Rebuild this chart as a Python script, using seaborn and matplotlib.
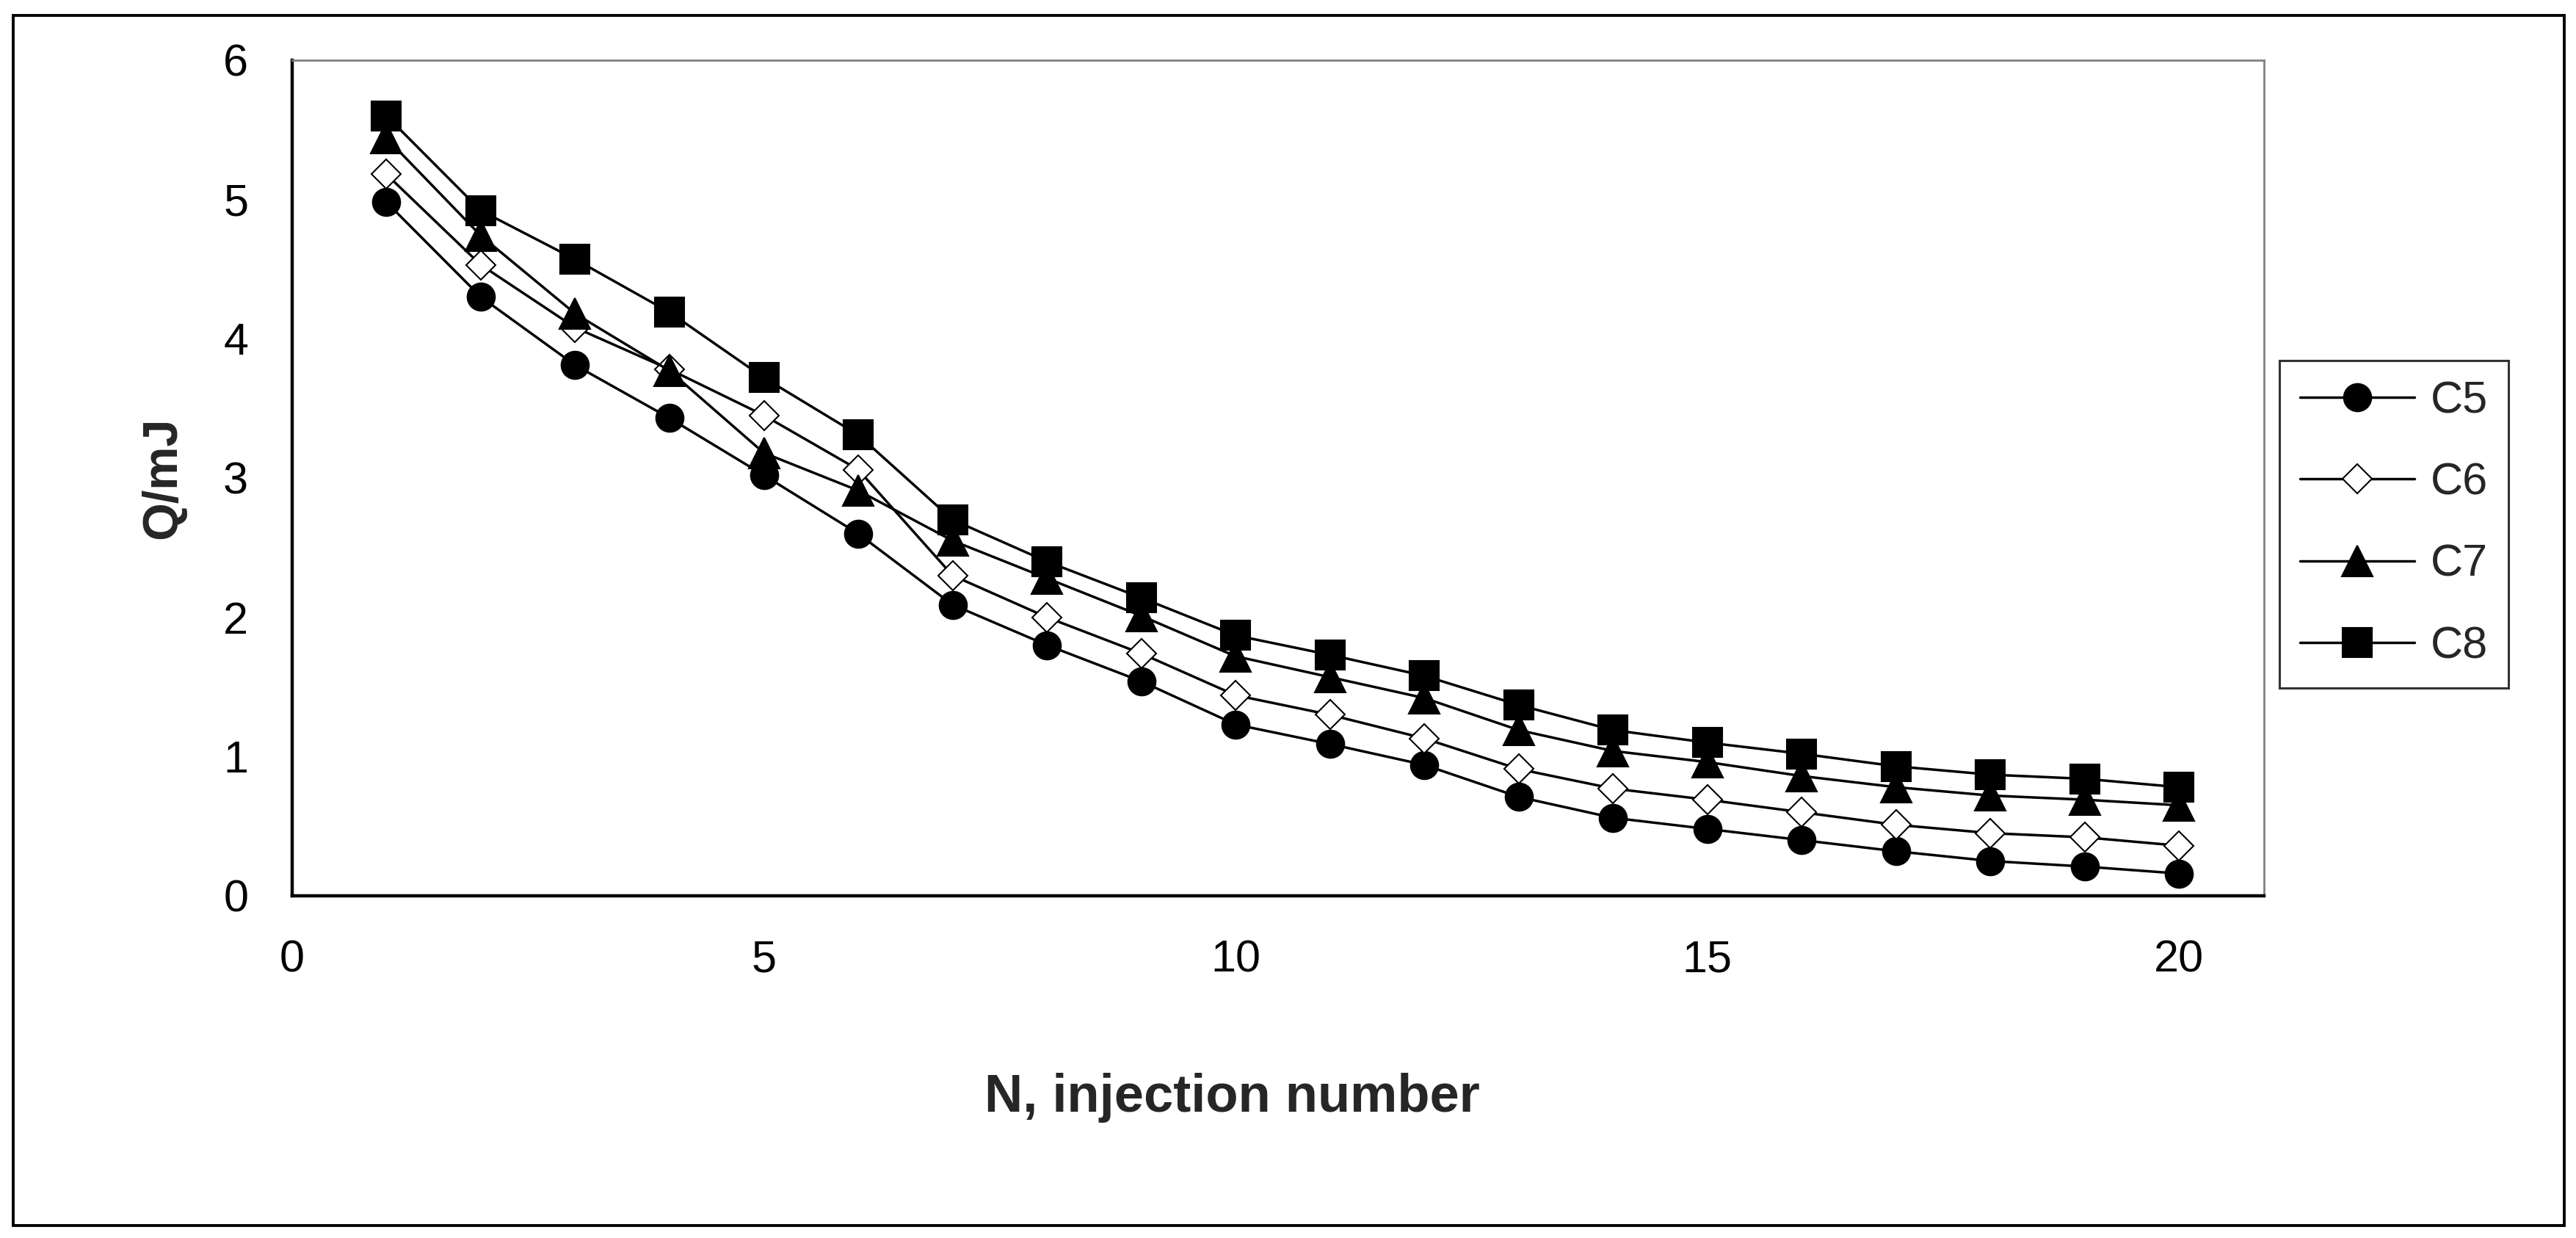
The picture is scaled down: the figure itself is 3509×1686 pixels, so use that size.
import matplotlib
matplotlib.use("Agg")
import matplotlib.pyplot as plt
import seaborn as sns
from matplotlib.patches import Rectangle

# injection number
N = list(range(1, 21))

# heat per injection, Q/mJ
C5 = [4.98, 4.30, 3.81, 3.43, 3.02, 2.60, 2.09, 1.80, 1.54, 1.23,
      1.09, 0.94, 0.71, 0.56, 0.48, 0.40, 0.32, 0.25, 0.21, 0.16]
C6 = [5.18, 4.53, 4.08, 3.78, 3.45, 3.06, 2.30, 2.00, 1.74, 1.44,
      1.30, 1.13, 0.91, 0.77, 0.69, 0.60, 0.51, 0.45, 0.42, 0.36]
C7 = [5.44, 4.74, 4.18, 3.77, 3.18, 2.91, 2.55, 2.28, 2.01, 1.72,
      1.57, 1.42, 1.19, 1.04, 0.96, 0.86, 0.78, 0.72, 0.69, 0.65]
C8 = [5.60, 4.92, 4.57, 4.19, 3.72, 3.31, 2.70, 2.40, 2.14, 1.87,
      1.73, 1.58, 1.37, 1.19, 1.10, 1.02, 0.93, 0.87, 0.84, 0.78]

labels = ["C5", "C6", "C7", "C8"]
series = [C5, C6, C7, C8]
markers = ["o", "D", "^", "s"]
msizes = [27, 20, 30, 29]
faces = ["black", "white", "black", "black"]

sns.set_style("white")
plt.rcParams["font.family"] = ["Liberation Sans", "DejaVu Sans"]

fig = plt.figure(figsize=(35.09, 16.86), dpi=100)
ax = fig.add_axes([0.1134, 0.2764, 0.8789 - 0.1134, 0.9514 - 0.2764])

for lab, ys, mk, ms, fc in zip(labels, series, markers, msizes, faces):
    sns.lineplot(x=N, y=ys, ax=ax, color="black", linewidth=2.5,
                 marker=mk, markersize=ms, markerfacecolor=fc,
                 markeredgecolor="black", markeredgewidth=1.5, label=lab)

ax.set_xlim(0, 20.9)
ax.set_ylim(0, 6)
ax.set_xticks([0, 5, 10, 15, 20])
ax.set_yticks([0, 1, 2, 3, 4, 5, 6])
ax.tick_params(axis="both", direction="out", length=16, width=2,
               pad=27, labelsize=44, colors="black")

for side in ["left", "bottom"]:
    ax.spines[side].set_color("black")
    ax.spines[side].set_linewidth(3.2)
for side in ["top", "right"]:
    ax.spines[side].set_color("#808080")
    ax.spines[side].set_linewidth(2)

ax.set_xlabel("N, injection number", fontsize=52, fontweight="bold")
ax.set_ylabel("Q/mJ", fontsize=48, fontweight="bold")
ax.xaxis.set_label_coords(0.4766, -0.242)
ax.xaxis.label.set_va("center")
ax.yaxis.set_label_coords(-0.0655, 0.5)
ax.yaxis.label.set_va("center")

leg = ax.legend(loc="upper left", bbox_to_anchor=(0.885, 0.709),
                bbox_transform=fig.transFigure, borderaxespad=0,
                fontsize=44, handlelength=2.55, handletextpad=0.36,
                labelspacing=0.89, borderpad=0.45, fancybox=False,
                frameon=True, edgecolor="black")
leg.get_frame().set_linewidth(2.2)

# outer chart border
fig.patches.append(Rectangle((0.0051, 0.0101), 0.9954 - 0.0051, 0.9875 - 0.0101,
                             transform=fig.transFigure, fill=False,
                             edgecolor="black", linewidth=2.8))

fig.savefig("out.png", dpi=100, facecolor="white")
